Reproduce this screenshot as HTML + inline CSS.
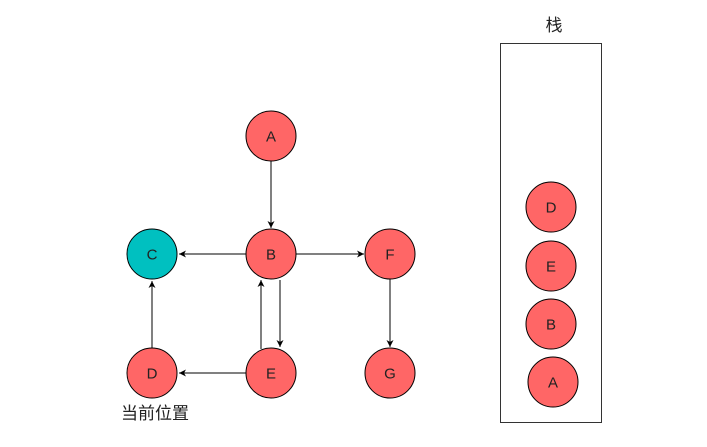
<!DOCTYPE html>
<html><head><meta charset="utf-8"><style>html,body{margin:0;padding:0;background:#fff}</style></head>
<body>
<svg width="707" height="447" xmlns="http://www.w3.org/2000/svg" style="display:block">
<defs><marker id="ar" markerWidth="8" markerHeight="8" refX="7" refY="4" orient="auto" markerUnits="userSpaceOnUse"><path d="M0,0.5 L7,4 L0,7.5 L2,4 Z" fill="#000"/></marker></defs>
<g stroke="#000" stroke-width="1" fill="none">
<line x1="271" y1="161" x2="271" y2="228" marker-end="url(#ar)"/>
<line x1="246" y1="254" x2="179" y2="254" marker-end="url(#ar)"/>
<line x1="296" y1="254" x2="364" y2="254" marker-end="url(#ar)"/>
<line x1="390" y1="279" x2="390" y2="347" marker-end="url(#ar)"/>
<line x1="152" y1="348" x2="152" y2="281" marker-end="url(#ar)"/>
<line x1="246" y1="373" x2="179" y2="373" marker-end="url(#ar)"/>
<line x1="261" y1="349" x2="261" y2="280" marker-end="url(#ar)"/>
<line x1="280" y1="280" x2="280" y2="347" marker-end="url(#ar)"/>
</g>
<rect x="500.5" y="43.5" width="101" height="379" fill="#fff" stroke="#333" stroke-width="1"/>
<g stroke="#000" stroke-width="1" fill="#ff6666">
<circle cx="271" cy="136" r="25"/>
<circle cx="271" cy="254" r="25"/>
<circle cx="390" cy="254" r="25"/>
<circle cx="152" cy="254" r="25" fill="#00c0c0"/>
<circle cx="152" cy="373" r="25"/>
<circle cx="271" cy="373" r="25"/>
<circle cx="390" cy="373" r="25"/>
<circle cx="551" cy="207" r="25"/>
<circle cx="551" cy="266" r="25"/>
<circle cx="551" cy="324" r="25"/>
<circle cx="553" cy="382" r="25"/>
</g>
<g font-family="Liberation Sans, sans-serif" font-size="15" fill="#222" text-anchor="middle">
<text x="271" y="141.5">A</text>
<text x="271" y="259.5">B</text>
<text x="390" y="259.5">F</text>
<text x="152" y="259.5">C</text>
<text x="152" y="378.5">D</text>
<text x="271" y="378.5">E</text>
<text x="390" y="378.5">G</text>
<text x="551" y="212.5">D</text>
<text x="551" y="271.5">E</text>
<text x="551" y="329.5">B</text>
<text x="553" y="387.5">A</text>
</g>
<g font-family="Liberation Sans, 'Noto Sans CJK SC', sans-serif" font-size="17" fill="#222" text-anchor="middle">
<text x="554" y="31">栈</text>
<text x="155" y="419">当前位置</text>
</g>
</svg>
</body></html>
